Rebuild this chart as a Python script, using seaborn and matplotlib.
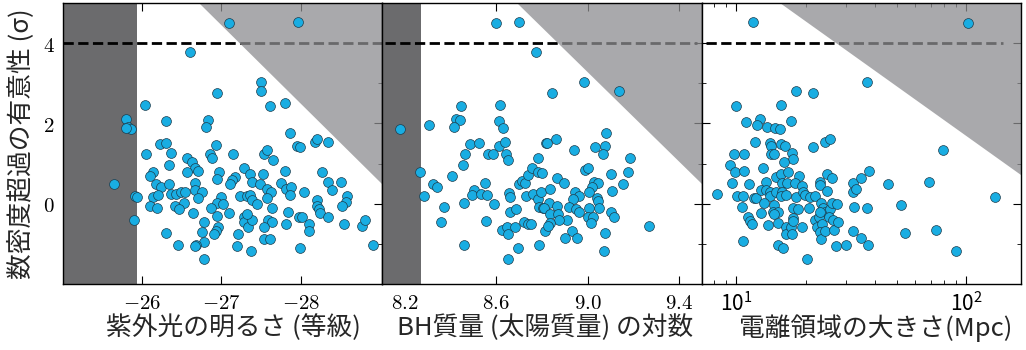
import numpy as np
import pandas as pd
import matplotlib
matplotlib.use("Agg")
import matplotlib.pyplot as plt
from matplotlib.patches import Polygon
import seaborn as sns

# ---- quasar sample: excess significance vs. three quasar properties ----
# panel 1: UV absolute magnitude
uv_mag = [
    -26.60, -26.95, -26.03, -25.79, -25.82, -25.86, -25.79, -26.30, -26.83, -26.80,
    -26.22, -26.30, -26.93, -26.05, -26.36, -26.57, -26.86, -26.88, -26.63, -26.34,
    -26.66, -26.71, -26.56, -26.13, -26.10, -26.97, -26.95, -25.65, -26.17, -26.24,
    -26.34, -26.67, -26.67, -26.75, -25.91, -25.94, -26.14, -26.20, -26.36, -26.43,
    -26.49, -26.54, -26.71, -27.00, -26.53, -26.95, -27.02, -26.10, -26.19, -26.41,
    -26.47, -26.87, -26.64, -26.95, -25.89, -26.78, -26.96, -26.93, -26.76, -26.91,
    -26.30, -26.78, -26.45, -26.68, -26.67, -26.78,
    -27.09, -27.97, -27.50, -27.50, -27.61, -27.80, -27.87, -27.95, -27.99, -28.18,
    -28.21, -28.34, -27.15, -27.54, -27.58, -27.65, -27.28, -27.36, -27.39, -27.17,
    -27.13, -27.11, -27.53, -27.49, -27.57, -27.62, -27.75, -27.80, -27.81, -27.88,
    -27.87, -28.04, -28.27, -28.34, -28.40, -28.51, -28.58, -28.57, -28.52, -28.21,
    -28.20, -28.23, -28.24, -28.34, -27.24, -27.32, -27.36, -27.38, -27.45, -27.57,
    -27.09, -27.29, -27.29, -27.33, -27.39, -27.32, -27.21, -27.20, -27.37, -27.64,
    -27.59, -27.64, -27.54, -27.54, -27.61, -27.84, -27.81, -27.98, -28.02, -28.11,
    -28.11, -27.99, -28.55, -28.78, -28.81, -28.91,
]
uv_sig = [
    3.77, 2.75, 2.45, 2.11, 1.92, 1.86, 1.88, 2.05, 2.08, 1.90,
    1.49, 1.51, 1.46, 1.24, 1.26, 1.15, 1.24, 1.14, 1.03, 0.97,
    0.90, 0.82, 0.80, 0.80, 0.68, 0.78, 0.62, 0.49, 0.49, 0.42,
    0.50, 0.52, 0.35, 0.28, 0.20, 0.17, 0.17, 0.22, 0.23, 0.24,
    0.28, 0.29, 0.13, 0.16, 0.01, 0.02, -0.02, -0.07, -0.12, -0.07,
    -0.13, -0.11, -0.24, -0.32, -0.42, -0.46, -0.59, -0.67, -0.70, -0.75,
    -0.73, -0.95, -1.04, -1.03, -1.06, -1.37,
    4.51, 4.54, 3.04, 2.81, 2.44, 2.52, 1.77, 1.44, 1.41, 1.53,
    1.61, 1.53, 1.24, 1.25, 1.35, 1.09, 0.89, 0.73, 0.55, 0.66,
    0.58, 0.50, 0.75, 0.50, 0.37, 0.30, 0.52, 0.82, 0.36, 0.42,
    0.22, 0.30, 0.78, 0.55, 0.33, 0.53, 0.18, 0.04, -0.06, 0.10,
    -0.07, -0.14, -0.23, -0.34, 0.20, 0.18, 0.21, 0.08, -0.02, 0.14,
    -0.23, -0.33, -0.46, -0.58, -0.42, -0.27, -0.75, -1.06, -1.19, -0.12,
    -0.42, -0.47, -0.58, -0.87, -0.87, -0.21, -0.51, -0.33, -0.33, -0.50,
    -0.69, -1.11, -0.51, -0.55, -0.42, -1.02,
]

# panel 2: log black-hole mass
bh_mass = [
    8.599, 8.700, 8.774, 8.176, 8.306, 8.266, 8.283, 8.444, 8.423, 8.441,
    8.415, 8.617, 8.612, 8.629, 8.483, 8.524, 8.610, 8.638, 8.464, 8.562,
    8.584, 8.641, 8.651, 8.455, 8.404, 8.323, 8.338, 8.372, 8.358, 8.460,
    8.458, 8.502, 8.492, 8.534, 8.550, 8.557, 8.591, 8.553, 8.657, 8.660,
    8.658, 8.688, 8.626, 8.649, 8.652, 8.682, 8.695, 8.652, 8.699, 8.711,
    8.724, 8.728, 8.741, 8.756, 8.784, 8.781, 8.800, 8.759, 8.781, 8.794,
    8.787, 8.806, 8.722, 8.739, 8.753, 8.785, 8.816, 8.813,
    8.984, 9.137, 8.842, 8.860, 8.822, 8.942, 9.032, 9.079, 9.077, 9.067,
    9.188, 8.988, 9.000, 9.102, 9.179, 9.156, 8.864, 8.896, 9.028, 9.044,
    9.020, 9.109, 9.006, 8.947, 8.962, 8.937, 8.835, 9.042, 9.047, 8.832,
    8.868, 8.809, 8.918, 8.949, 8.962, 9.007, 9.052, 9.104, 9.115, 9.000,
    9.026, 9.017, 8.836, 8.870, 8.912, 8.874, 8.836, 8.826, 8.933, 8.899,
    8.952, 9.077, 9.070, 9.270,
]
bh_sig = [
    4.51, 4.54, 3.77, 1.86, 1.95, 0.80, 0.18, 2.43, 2.11, 2.08,
    1.90, 2.46, 2.05, 1.88, 1.49, 1.51, 1.45, 1.53, 1.24, 1.25,
    1.23, 1.24, 1.10, 0.96, 0.70, 0.49, 0.42, -0.08, -0.46, 0.02,
    -1.04, 0.35, 0.21, 0.25, 0.51, 0.22, -0.02, -0.44, 0.27, 0.17,
    -0.22, -0.13, -0.65, -0.59, -0.76, -0.58, -1.10, -1.37, 0.50, 0.57,
    0.51, 0.18, 0.72, 0.90, 1.14, 0.80, 0.77, 0.23, 0.12, 0.28,
    -0.08, -0.12, -0.46, -0.50, -0.51, -1.04, 1.52, -0.69,
    3.04, 2.81, 2.75, 1.60, 1.51, 1.35, 1.42, 1.77, 1.44, 1.24,
    1.13, 0.83, 0.89, 0.75, 0.79, 0.50, 0.64, 0.51, 0.55, 0.51,
    0.41, 0.32, 0.29, 0.28, 0.18, 0.12, 0.37, 0.13, 0.06, 0.02,
    -0.05, -0.11, -0.08, -0.13, -0.21, -0.11, -0.10, -0.20, -0.33, -0.34,
    -0.33, -0.48, -0.26, -0.27, -0.42, -0.42, -0.48, -0.56, -0.67, -0.86,
    -0.86, -0.73, -1.19, -0.56,
]

# panel 3: ionized region size (Mpc)
ion_size = [
    11.8, 9.94, 18.2, 21.5, 15.7, 10.96, 12.6, 12.3, 13.6, 14.7,
    15.4, 17.2, 12.1, 14.0, 14.1, 15.7, 16.3, 21.5, 24.3, 25.5,
    9.8, 10.8, 14.1, 14.5, 17.5, 17.6, 16.1, 9.4, 9.9, 10.8,
    13.1, 14.8, 15.7, 16.7, 18.8, 9.6, 11.3, 13.5, 15.8, 16.6,
    17.9, 19.3, 23.0, 23.1, 24.7, 26.0, 32.0, 34.9, 8.2, 10.1,
    10.7, 11.9, 12.2, 12.8, 13.5, 14.0, 14.0, 14.9, 15.8, 15.6,
    16.4, 18.1, 19.5, 19.8, 20.8, 22.0, 24.8, 32.0, 33.2, 10.6,
    13.2, 14.5, 12.8, 14.4, 15.1, 17.7, 18.6, 20.7, 23.4, 23.8,
    24.3, 25.6, 26.0, 27.3, 32.4, 11.2, 11.4, 11.7, 13.7, 14.5,
    15.2, 16.4, 16.4, 17.3, 17.5, 17.6, 17.7, 19.2, 22.0, 22.4,
    22.8, 23.0, 23.6, 23.2, 23.4, 24.4, 25.2, 26.4, 26.6, 27.7,
    10.7, 15.1, 16.0, 20.3, 27.0, 30.0, 32.3, 34.9,
    102.0, 37.1, 79.6, 37.7, 45.9, 69.1, 133.0, 37.0, 52.1, 53.9,
    73.8, 37.2, 90.2,
]
ion_sig = [
    4.54, 2.43, 2.81, 2.75, 2.46, 2.04, 2.11, 1.95, 1.90, 1.88,
    1.86, 2.07, 1.53, 1.51, 1.43, 1.49, 1.45, 1.42, 1.53, 1.61,
    1.24, 1.24, 1.24, 1.23, 1.26, 1.11, 1.03, 0.96, 0.80, 0.82,
    0.89, 0.66, 0.75, 0.80, 0.70, 0.52, 0.49, 0.53, 0.51, 0.51,
    0.52, 0.43, 0.55, 0.47, 0.73, 0.64, 0.51, 0.64, 0.23, 0.20,
    0.20, 0.15, 0.14, 0.35, 0.33, 0.28, 0.18, 0.28, 0.29, 0.20,
    0.22, 0.17, 0.28, 0.22, 0.17, 0.20, 0.32, 0.29, 0.37, -0.08,
    0.02, -0.03, -0.24, -0.20, -0.20, -0.12, -0.13, -0.12, 0.02, -0.12,
    -0.22, -0.13, 0.01, -0.02, -0.08, -0.33, -0.44, -0.51, -0.52, -0.27,
    -0.48, -0.59, -0.75, -0.59, -0.75, -0.35, -0.44, -0.58, -0.42, -0.58,
    -0.33, -0.22, -0.50, -0.70, -0.87, -0.67, -0.33, -0.42, -0.65, -0.46,
    -0.93, -1.02, -1.10, -1.37, -1.06, -1.04, -0.69, -0.86,
    4.51, 3.04, 1.35, 0.82, 0.50, 0.55, 0.17, -0.11, -0.04, -0.73,
    -0.65, -1.03, -1.19,
]

# detection threshold and excluded regions
threshold = 4.0
uv_faint_edge = -25.94
bh_low_edge = 8.27
uv_wedge = [(-26.72, 5.0), (-29.03, 5.0), (-29.03, 0.50)]
bh_wedge = [(8.69, 5.0), (9.50, 5.0), (9.50, 0.50)]
ion_wedge = [(15.5, 5.0), (173.0, 5.0), (173.0, 0.72)]
threshold_spans = [(-25.0, -29.03), (8.11, 9.48), (7.4, 144.0)]

# axis ticks and labels
y_major = [0, 2, 4]
y_minor = [-1, 1, 3]
y_labels = ["$0$", "$2$", "$4$"]
uv_ticks = [-26, -27, -28]
uv_ticklabels = ["$-26$", "$-27$", "$-28$"]
bh_ticks = [8.2, 8.6, 9.0, 9.4]
bh_ticklabels = ["$8.2$", "$8.6$", "$9.0$", "$9.4$"]
xlabels = ["紫外光の明るさ (等級)", "BH質量 (太陽質量) の対数", "電離領域の大きさ(Mpc)"]
xlabel_centers = [0.535, 0.51, 0.545]
ylabel = "数密度超過の有意性 (σ)"

sns.set_theme(style="ticks")
plt.rcParams["font.family"] = ["Noto Sans CJK JP", "DejaVu Sans"]
plt.rcParams["mathtext.fontset"] = "cm"

fig, axes = plt.subplots(1, 3, figsize=(10.26, 3.5), dpi=100, sharey=True)
fig.subplots_adjust(left=0.0614, right=0.995, top=0.991, bottom=0.189, wspace=0)

dots = dict(s=50, color="#19ade2", edgecolor="#1d3c4c", linewidth=0.5, zorder=4,
            legend=False)
dark = "#6b6b6d"
wedge_kw = dict(closed=True, facecolor="#8d8d90", alpha=0.75, edgecolor="none", zorder=2)

panels = [
    (axes[0], uv_mag, uv_sig, (-25.0, -29.03), uv_wedge),
    (axes[1], bh_mass, bh_sig, (8.10, 9.50), bh_wedge),
    (axes[2], ion_size, ion_sig, (7.05, 173.0), ion_wedge),
]

for i, (ax, xs, ys, xlim, wedge) in enumerate(panels):
    df = pd.DataFrame({"x": xs, "y": ys})
    if i == 2:
        ax.set_xscale("log")
    ax.set_xlim(*xlim)
    ax.set_ylim(-2, 5)
    x0, x1 = threshold_spans[i]
    ax.hlines(threshold, x0, x1, color="black", lw=2.0, ls="--", zorder=1.5)
    ax.add_patch(Polygon(wedge, **wedge_kw))
    sns.scatterplot(data=df, x="x", y="y", ax=ax, **dots)
    ax.set_xlabel(xlabels[i], fontsize=18.5)
    ax.xaxis.set_label_coords(xlabel_centers[i], -0.108)
    ax.set_ylabel("")
    for sp in ax.spines.values():
        sp.set_color("black")
        sp.set_linewidth(1.0)
    ax.tick_params(which="both", direction="in", top=True, right=True,
                   colors="black", labelsize=15, pad=6)
    ax.tick_params(which="major", length=6, width=0.8)
    ax.tick_params(which="minor", length=3, width=0.6)

# shaded limits of the sample
axes[0].axvspan(-25.0, uv_faint_edge, color=dark, zorder=1, lw=0)
axes[1].axvspan(8.10, bh_low_edge, color=dark, zorder=1, lw=0)

axes[0].set_xticks(uv_ticks)
axes[0].set_xticklabels(uv_ticklabels)
axes[1].set_xticks(bh_ticks)
axes[1].set_xticklabels(bh_ticklabels)
axes[0].set_xticks([], minor=True)
axes[1].set_xticks([], minor=True)

axes[0].set_yticks(y_major)
axes[0].set_yticks(y_minor, minor=True)
axes[0].set_yticklabels(y_labels)
for ax in axes[1:]:
    ax.tick_params(labelleft=False)

axes[0].set_ylabel(ylabel, fontsize=18.5, labelpad=6)

fig.savefig("out.png", dpi=100)
